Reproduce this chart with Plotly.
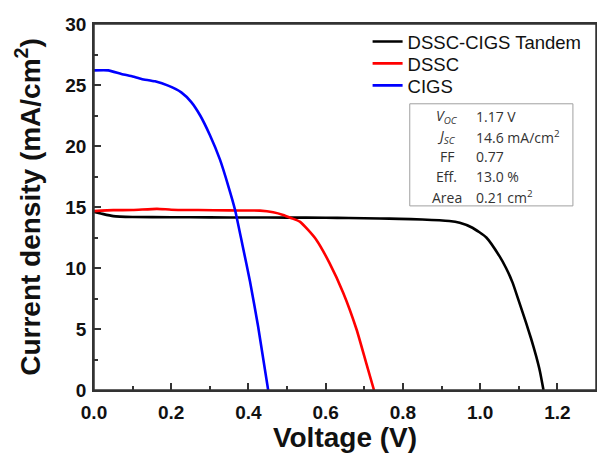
import plotly.graph_objects as go

# ---- data ----
tandem_v = [0, 0.02, 0.05, 0.1, 0.2, 0.3, 0.4, 0.5, 0.6, 0.66, 0.74, 0.79, 0.85, 0.92,
            0.947, 0.98, 1.016, 1.05, 1.067, 1.084, 1.10, 1.119, 1.132,
            1.145, 1.155, 1.164]
tandem_j = [14.6, 14.45, 14.25, 14.18, 14.16, 14.15, 14.14, 14.13, 14.12, 14.1, 14.06,
            14.03, 13.98, 13.85, 13.7, 13.3, 12.5, 10.97, 10.0, 8.8, 7.3,
            5.5, 4.2, 2.77, 1.5, 0]

dssc_v = [0, 0.05, 0.1, 0.163, 0.2, 0.27, 0.35, 0.43, 0.464, 0.49, 0.51, 0.533, 0.555,
          0.576, 0.61, 0.645, 0.68, 0.705, 0.725]
dssc_j = [14.66, 14.74, 14.75, 14.85, 14.78, 14.75, 14.72, 14.7, 14.57, 14.35, 14.1,
          13.8, 13.1, 12.3, 10.4, 8.0, 4.96, 2.2, 0]

cigs_v = [0, 0.037, 0.071, 0.1, 0.123, 0.158, 0.192, 0.226, 0.252, 0.275, 0.3, 0.326,
          0.348, 0.365, 0.385, 0.404, 0.425, 0.451]
cigs_j = [26.2, 26.2, 25.9, 25.7, 25.5, 25.3, 24.95, 24.4, 23.6, 22.5, 20.9, 18.9, 16.7,
          14.8, 11.8, 8.9, 5.2, 0]

series_names = ["DSSC-CIGS Tandem", "DSSC", "CIGS"]
series_colors = ["#000000", "#ff0000", "#0000ff"]

inset_labels = ["<i>V</i><sub><i>OC</i></sub>", "<i>J</i><sub><i>SC</i></sub>",
                "FF", "Eff.", "Area"]
inset_values = ["1.17 V", "14.6 mA/cm<sup>2</sup>", "0.77", "13.0 %",
                "0.21 cm<sup>2</sup>"]

x_ticks = [0.0, 0.2, 0.4, 0.6, 0.8, 1.0, 1.2]
y_ticks = [0, 5, 10, 15, 20, 25, 30]

# ---- figure ----
fig = go.Figure()
legend_ids = ["legend", "legend2", "legend3"]
for v, j, name, col, lg in zip([tandem_v, dssc_v, cigs_v], [tandem_j, dssc_j, cigs_j],
                               series_names, series_colors, legend_ids):
    fig.add_trace(go.Scatter(x=v, y=j, mode="lines", name=name, legend=lg,
                             line=dict(color=col, width=2.6, shape="spline",
                                       smoothing=0.5)))

axis_font = dict(family="Liberation Sans, Arial", size=19, color="#111", weight="bold")
title_font = dict(family="Liberation Sans, Arial", size=28, color="#111", weight="bold")
legend_font = dict(family="Liberation Sans, Arial", size=18.5, color="#111")


def legend_box(yc):
    return dict(x=0.545, y=yc, xanchor="left", yanchor="middle",
                bgcolor="rgba(0,0,0,0)", borderwidth=0, font=legend_font)


fig.update_layout(
    width=597, height=453,
    margin=dict(l=94, r=1, t=24, b=63),
    paper_bgcolor="white", plot_bgcolor="white",
    showlegend=True,
    legend=legend_box(0.951),
    legend2=legend_box(0.891),
    legend3=legend_box(0.831),
    xaxis=dict(range=[0, 1.3], tickvals=x_ticks,
               ticktext=[f"{t:.1f}" for t in x_ticks],
               ticks="inside", ticklen=7, tickwidth=1.5, tickcolor="#333",
               minor=dict(dtick=0.1, ticks="inside", ticklen=4, tickwidth=1.5,
                          tickcolor="#333", showgrid=False),
               showline=True, linecolor="#333", linewidth=1.5, mirror=True,
               showgrid=False, zeroline=False, tickfont=axis_font,
               ticklabelstandoff=4, automargin=False,
               title=dict(text="Voltage (V)", font=title_font, standoff=12)),
    yaxis=dict(range=[0, 30], tickvals=y_ticks,
               ticks="inside", ticklen=7, tickwidth=1.5, tickcolor="#333",
               minor=dict(dtick=2.5, ticks="inside", ticklen=4, tickwidth=1.5,
                          tickcolor="#333", showgrid=False),
               showline=True, linecolor="#333", linewidth=1.5, mirror=True,
               showgrid=False, zeroline=False, tickfont=axis_font,
               ticklabelstandoff=2, automargin=False,
               title=dict(text="Current density (mA/cm<sup>2</sup>)", font=title_font,
                          standoff=17)),
)

# plot frame (top and right sides)
fig.add_shape(type="rect", xref="paper", yref="paper", x0=0, x1=1, y0=0, y1=1,
              line=dict(color="#333", width=1.5), fillcolor="rgba(0,0,0,0)",
              layer="above")

# inset parameter box
fig.add_shape(type="rect", xref="paper", yref="paper", x0=0.629, x1=0.954,
              y0=0.503, y1=0.782, line=dict(color="#a0a0a0", width=1),
              fillcolor="rgba(0,0,0,0)")
row_y = [0.746, 0.692, 0.639, 0.584, 0.527]
inset_font = dict(family="Open Sans, Noto Sans", size=14, color="#333")
for lab, val, yy in zip(inset_labels, inset_values, row_y):
    fig.add_annotation(x=0.703, y=yy, xref="paper", yref="paper", text=lab,
                       showarrow=False, xanchor="center", yanchor="middle",
                       font=inset_font)
    fig.add_annotation(x=0.757, y=yy, xref="paper", yref="paper", text=val,
                       showarrow=False, xanchor="left", yanchor="middle",
                       font=inset_font)

fig.write_html("out.html", config={"displayModeBar": False},
               post_script="document.body.style.margin='0px';")
